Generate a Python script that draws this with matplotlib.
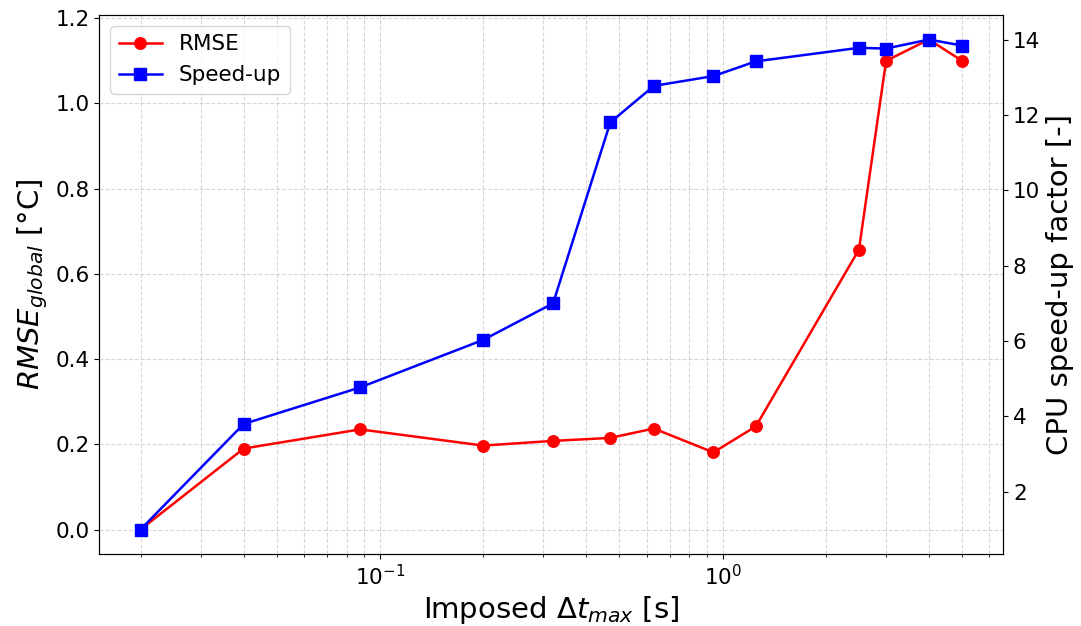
import numpy as np
import matplotlib
matplotlib.use("Agg")
from matplotlib import pyplot as plt

# imposed max time step [s]
dt_max = [0.02, 0.04, 0.0875, 0.2, 0.32, 0.47, 0.63, 0.94, 1.25, 2.5, 3.0, 4.0, 5.0]
# global RMSE [degC]
rmse = [0.0, 0.19, 0.235, 0.197, 0.208, 0.215, 0.237, 0.181, 0.242, 0.657, 1.10, 1.15, 1.10]
# CPU speed-up factor [-]
speedup = [1.0, 3.8, 4.77, 6.03, 7.0, 11.8, 12.77, 13.03, 13.42, 13.78, 13.76, 14.0, 13.84]

fig, ax = plt.subplots(figsize=(10.81, 6.26), dpi=100)
fig.subplots_adjust(left=0.092, right=0.928, bottom=0.115, top=0.976)

l1, = ax.plot(dt_max, rmse, 'o-', color='red', lw=1.8, ms=8.3, label='RMSE')
ax.set_xscale('log')
ax.set_xlabel(r'Imposed $\Delta t_{max}$ [s]', fontsize=21)
ax.set_ylabel(r'$RMSE_{global}$ [°C]', fontsize=21)
ax.tick_params(labelsize=15.5)
ax.grid(True, which='both', linestyle='--', alpha=0.5)

ax2 = ax.twinx()
l2, = ax2.plot(dt_max, speedup, 's-', color='blue', lw=1.8, ms=8.3, label='Speed-up')
ax2.set_ylabel('CPU speed-up factor [-]', fontsize=21)
ax2.tick_params(labelsize=15.5)

ax2.legend(handles=[l1, l2], loc='upper left', fontsize=15.5)

plt.savefig('out.png')
